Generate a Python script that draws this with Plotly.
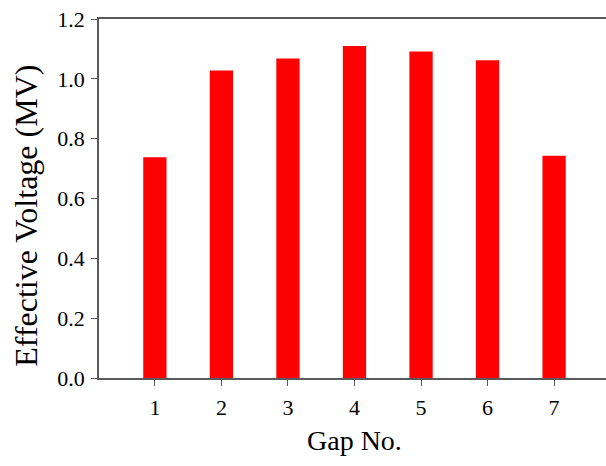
import plotly.graph_objects as go

gaps = [1, 2, 3, 4, 5, 6, 7]
voltages = [0.738, 1.028, 1.068, 1.110, 1.091, 1.062, 0.743]
y_ticks = [0.0, 0.2, 0.4, 0.6, 0.8, 1.0, 1.2]
y_tick_text = ["0.0", "0.2", "0.4", "0.6", "0.8", "1.0", "1.2"]

axis_color = "#5a5a5a"
font_family = "Liberation Serif"

fig = go.Figure(
    go.Bar(
        x=gaps,
        y=voltages,
        width=0.35,
        marker=dict(color="#ff0000", line=dict(width=0)),
    )
)

fig.update_layout(
    width=606,
    height=466,
    margin=dict(l=99, r=0, t=19, b=88),
    paper_bgcolor="white",
    plot_bgcolor="white",
    showlegend=False,
    font=dict(family=font_family, size=22, color="black"),
    xaxis=dict(
        range=[0.16, 7.78],
        tickmode="array",
        tickvals=gaps,
        ticktext=[str(g) for g in gaps],
        ticks="outside",
        ticklen=6,
        tickwidth=1.2,
        tickcolor=axis_color,
        ticklabelstandoff=3,
        showline=True,
        linecolor=axis_color,
        linewidth=1.5,
        mirror=True,
        showgrid=False,
        zeroline=False,
        tickfont=dict(size=22),
    ),
    yaxis=dict(
        range=[0, 1.2],
        tickmode="array",
        tickvals=y_ticks,
        ticktext=y_tick_text,
        ticks="outside",
        ticklen=6,
        tickwidth=1.2,
        tickcolor=axis_color,
        ticklabelstandoff=2,
        showline=True,
        linecolor=axis_color,
        linewidth=1.5,
        showgrid=False,
        zeroline=False,
        tickfont=dict(size=22),
    ),
    annotations=[
        dict(
            text="Gap No.",
            xref="paper", yref="paper",
            x=0.503, y=0, yshift=-62,
            xanchor="center", yanchor="middle",
            showarrow=False,
            font=dict(size=28, family=font_family),
        ),
        dict(
            text="Effective Voltage (MV)",
            xref="paper", yref="paper",
            x=0, xshift=-73, y=0.452,
            xanchor="center", yanchor="middle",
            textangle=-90,
            showarrow=False,
            font=dict(size=32, family=font_family),
        ),
    ],
)

fig.write_html("out.html")
